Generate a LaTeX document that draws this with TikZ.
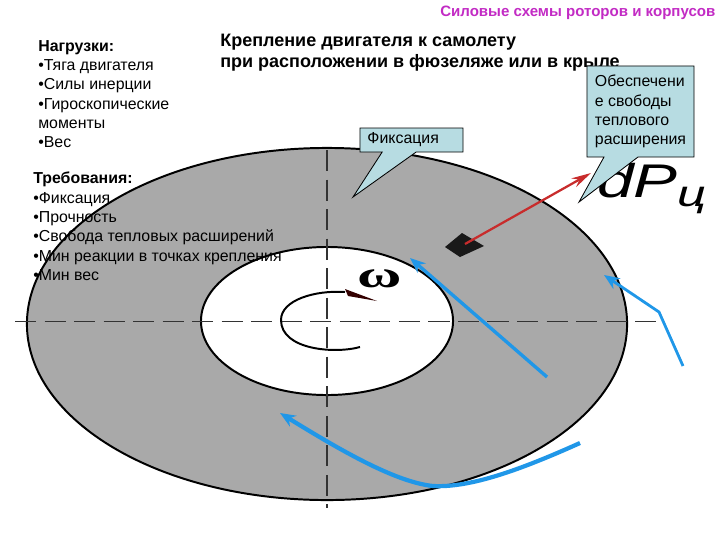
\documentclass[tikz,border=0pt]{standalone}
\usepackage{fontspec}
\setmainfont{Liberation Sans}
\newfontfamily\serifgreek{Liberation Serif}
\usepackage{xcolor}
\usepackage{tikz}
\usetikzlibrary{arrows.meta, positioning, calc, shapes.geometric, shapes.callouts}

\definecolor{discgray}{HTML}{A9A9A9}
\definecolor{noteblue}{HTML}{B7DCE2}
\definecolor{flowblue}{HTML}{2097E8}
\definecolor{forcered}{HTML}{C82C2C}
\definecolor{headpink}{HTML}{C22BC4}

\begin{document}
\begin{tikzpicture}[
    x=0.025cm, y=-0.025cm,
    >=Stealth,
    disc/.style={draw, ellipse, line width=1.4pt, inner sep=0pt, outer sep=0pt},
    axis/.style={black!80, dash pattern=on 15pt off 6pt},
    note/.style={rectangle callout, draw, fill=noteblue, line width=0.6pt, inner sep=0pt, outer sep=0pt, callout pointer width=0.85cm},
    body/.style={font=\fontsize{11.3}{13.7}\selectfont, align=left, anchor=north west, inner sep=0pt},
    flow/.style={->, flowblue, line width=2.4pt, >={Stealth[length=11pt,width=9pt]}}
]
\clip (0,0) rectangle (720,540);

% rotor discs
\node[disc, fill=discgray, minimum width=15cm, minimum height=8.8cm] (outer) at (327,324) {};
\node[disc, fill=white, minimum width=6.3cm, minimum height=3.7cm] (inner) at (327,321) {};

\coordinate (axisleft) at (15,321);
\coordinate (axisright) at (657,321);
\coordinate (axistop) at (327,150);
\coordinate (axisbottom) at (327,508);
\draw[axis, line width=0.7pt] (axisleft) -- (axisright);
\draw[axis, line width=1.2pt] (axistop) -- (axisbottom);

% rotation mark
\coordinate (spinstart) at (360,347);
\coordinate (spinleft) at (281,320);
\coordinate (spinend) at (345,292);
\coordinate (spintip) at (377,301);
\draw[line width=1.4pt] (spinstart) .. controls (335,354) and (281,350) .. (spinleft)
    .. controls (281,300) and (315,290) .. (spinend);
\fill[black!80!red] (345,289) -- (spintip) -- (348,296) -- cycle;
\node[font=\fontsize{27}{27}\selectfont\serifgreek\bfseries, xscale=1.6, inner sep=0pt] (omega) at (380,279) {ω};

% texts
\node[font=\fontsize{10.7}{13}\selectfont\bfseries, text=headpink, anchor=west, inner sep=0pt] (header) at (440,13) {Силовые схемы роторов и корпусов};
\node[body, font=\fontsize{12.8}{15}\selectfont\bfseries] (title) at (220,34) {Крепление двигателя к самолету\\при расположении в фюзеляже или в крыле};
\node[body] (loads) at (38,40) {\textbf{Нагрузки:}\\•Тяга двигателя\\•Силы инерции\\•Гироскопические\\моменты\\•Вес};
\node[body] (needs) at (33,172) {\textbf{Требования:}\\•Фиксация\\•Прочность\\•Свобода тепловых расширений\\•Мин реакции в точках крепления\\•Мин вес};
\node[font=\fontsize{33.6}{36}\selectfont\itshape, xscale=1.39, anchor=base west, inner sep=0pt] (force) at (597,197) {dP\raisebox{-6.4pt}{\fontsize{26}{26}\selectfont ц}};

% force on the mount
\fill[black!90] (445,247) -- (462,233) -- (484,246) -- (460,257) -- cycle;
\coordinate (mount) at (465,244);
\coordinate (forcetip) at (591,173);
\draw[->, forcered, line width=1.6pt, >={Stealth[length=14pt,width=7pt]}] (mount) -- (forcetip);

% callouts
\node[note, minimum width=2.575cm, minimum height=0.6cm, callout absolute pointer={(353,197)}, font=\fontsize{11.3}{13.7}\selectfont] (fixnote) at (411.5,140) {\makebox[2.2cm][l]{\raisebox{-1pt}{Фиксация}}};
\node[note, minimum width=2.675cm, minimum height=2.275cm, callout absolute pointer={(579,202)}, font=\fontsize{11.3}{13.7}\selectfont, align=left] (freenote) at (640.5,111.5) {Обеспечени\\е свободы\\теплового\\расширения};

% blue arrows
\coordinate (midstart) at (547,377);
\coordinate (midtip) at (410,258);
\draw[flow] (midstart) -- (midtip);
\coordinate (rightstart) at (683,366);
\coordinate (rightbend) at (659,312);
\coordinate (righttip) at (604,275);
\draw[flow, line width=2pt] (rightstart) -- (rightbend) -- (righttip);
\coordinate (lowstart) at (580,443);
\coordinate (lowtip) at (280,413);
\draw[flow, line width=3pt] (lowstart) .. controls (520,470) and (470,488) .. (433,486)
    .. controls (395,482) and (340,450) .. (lowtip);

\end{tikzpicture}
\end{document}
